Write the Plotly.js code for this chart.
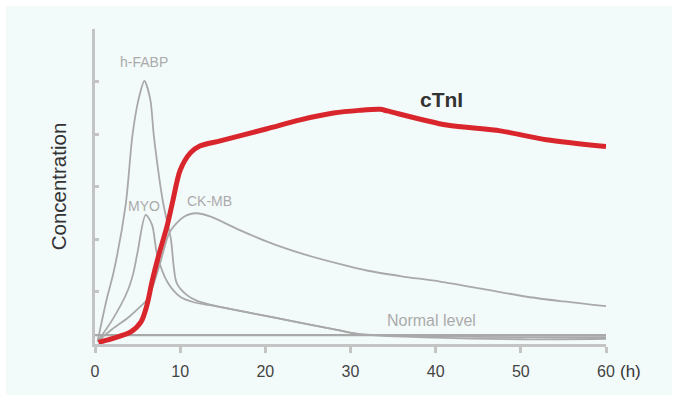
<!DOCTYPE html>
<html>
<head>
<meta charset="utf-8">
<script src="https://cdn.plot.ly/plotly-3.0.1.min.js"></script>
<style>
  html, body { margin: 0; padding: 0; background: #ffffff; }
  #chart { position: absolute; left: 6px; top: 6px; width: 666px; height: 389px; }
</style>
</head>
<body>
<div id="chart"></div>
<script>
// Hours after onset (x) and relative concentration (y, axis ticks every 1 unit)
const hfabpX = [0.3, 1.4, 2.2, 3.6, 4.4, 5.1, 5.8, 6.5, 6.9, 8.0, 8.9, 9.6, 10.8, 12.0, 13.5, 20.5, 28.4, 31.0, 40.0, 50.0, 60.0];
const hfabpY = [0.05, 0.87, 1.38, 2.65, 3.98, 4.65, 5.01, 4.65, 3.98, 2.69, 2.01, 1.16, 0.93, 0.82, 0.75, 0.52, 0.27, 0.19, 0.15, 0.13, 0.13];

const myoX = [0.3, 2.0, 3.8, 4.5, 5.0, 5.95, 6.7, 7.3, 8.5, 10.0, 11.5, 13.5, 20.5, 28.4, 31.0, 40.0, 50.0, 60.0];
const myoY = [0.05, 0.45, 1.0, 1.35, 1.75, 2.46, 2.27, 1.70, 1.18, 0.90, 0.80, 0.74, 0.52, 0.27, 0.19, 0.12, 0.09, 0.10];

const ckmbX = [0.3, 2.0, 3.8, 5.5, 6.1, 6.8, 7.7, 8.8, 10.4, 11.9, 13.5, 17.0, 20.5, 24.5, 28.8, 31.9, 36.0, 40.5, 45.5, 50.7, 55.0, 60.0];
const ckmbY = [0.05, 0.28, 0.49, 0.74, 0.84, 1.10, 1.57, 2.14, 2.42, 2.49, 2.43, 2.17, 1.93, 1.71, 1.52, 1.40, 1.29, 1.19, 1.05, 0.90, 0.81, 0.72];

const ctniX = [0.4, 2.2, 4.2, 5.4, 6.1, 6.7, 7.5, 8.5, 9.1, 10.0, 11.2, 12.3, 14.7, 20.2, 24.1, 28.0, 31.0, 33.5, 34.3, 41.3, 47.6, 53.0, 60.0];
const ctniY = [0.03, 0.11, 0.23, 0.42, 0.74, 1.19, 1.70, 2.27, 2.70, 3.31, 3.64, 3.77, 3.87, 4.10, 4.27, 4.40, 4.45, 4.47, 4.44, 4.17, 4.06, 3.89, 3.76];

const normalX = [0, 60];
const normalY = [0.17, 0.17];

const xTicks = [0, 10, 20, 30, 40, 50, 60];
const xTickLabels = ['0', '10', '20', '30', '40', '50', '60'];
const yTicks = [0, 1, 2, 3, 4, 5, 6];

const gray = '#a9a9a9';
const axisGray = '#c4c4c4';
const FONT = 'Arial, "Liberation Sans", Helvetica, sans-serif';

function grayLine(x, y, name) {
  return { x: x, y: y, name: name, type: 'scatter', mode: 'lines',
           line: { color: gray, width: 1.8, shape: 'spline', smoothing: 0.8 },
           hoverinfo: 'skip' };
}

const traces = [
  { x: normalX, y: normalY, name: 'Normal level', type: 'scatter', mode: 'lines',
    line: { color: gray, width: 2.2 }, hoverinfo: 'skip' },
  grayLine(hfabpX, hfabpY, 'h-FABP'),
  grayLine(myoX, myoY, 'MYO'),
  grayLine(ckmbX, ckmbY, 'CK-MB'),
  { x: ctniX, y: ctniY, name: 'cTnI', type: 'scatter', mode: 'lines',
    line: { color: '#d9262c', width: 5, shape: 'spline', smoothing: 0.8 }, hoverinfo: 'skip' }
];

const labelFont = { family: FONT, size: 14, color: '#ababab' };

const layout = {
  width: 666, height: 389,
  margin: { l: 89, r: 66, t: 23, b: 51 },
  paper_bgcolor: '#f3fafa',
  plot_bgcolor: 'rgba(0,0,0,0)',
  showlegend: false,
  font: { family: FONT, color: '#333333' },
  xaxis: {
    range: [0, 60], fixedrange: true,
    tickvals: xTicks, ticktext: xTickLabels,
    showgrid: false, zeroline: false,
    showline: true, linecolor: axisGray, linewidth: 3,
    ticks: 'outside', ticklen: 6, tickwidth: 3, tickcolor: axisGray,
    tickfont: { family: FONT, size: 16, color: '#444444' },
    ticklabelstandoff: 5
  },
  yaxis: {
    range: [0, 6], fixedrange: true,
    tickvals: yTicks, showticklabels: false,
    showgrid: false, zeroline: false,
    showline: true, linecolor: axisGray, linewidth: 3,
    ticks: 'inside', ticklen: 4, tickwidth: 3, tickcolor: axisGray,
    title: { text: 'Concentration', font: { family: FONT, size: 20.5, color: '#333333' }, standoff: 20 }
  },
  annotations: [
    { text: 'h-FABP', x: 5.75, y: 5.37, xref: 'x', yref: 'y', showarrow: false, font: labelFont },
    { text: 'MYO', x: 5.73, y: 2.63, xref: 'x', yref: 'y', showarrow: false, font: labelFont },
    { text: 'CK-MB', x: 13.5, y: 2.72, xref: 'x', yref: 'y', showarrow: false, font: labelFont },
    { text: 'Normal level', x: 39.5, y: 0.44, xref: 'x', yref: 'y', showarrow: false,
      font: { family: FONT, size: 16, color: '#ababab' } },
    { text: '<b>cTnI</b>', x: 40.7, y: 4.65, xref: 'x', yref: 'y', showarrow: false,
      font: { family: FONT, size: 21, color: '#333333' } },
    { text: '(h)', x: 60, xref: 'x', xshift: 24, y: 0, yref: 'paper', yshift: -27,
      xanchor: 'center', yanchor: 'middle', showarrow: false,
      font: { family: FONT, size: 17, color: '#333333' } }
  ]
};

Plotly.newPlot('chart', traces, layout, { staticPlot: true, displayModeBar: false });
</script>
</body>
</html>
